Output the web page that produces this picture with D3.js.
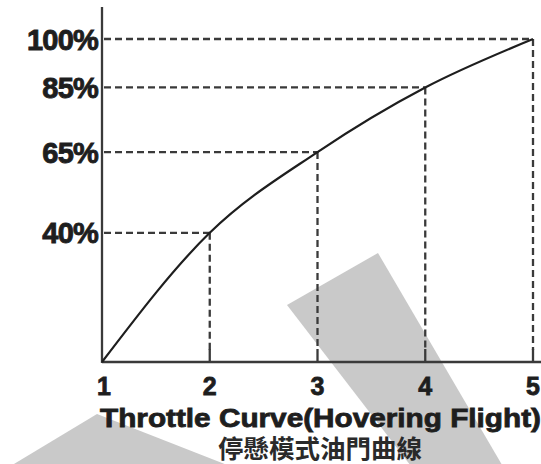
<!DOCTYPE html>
<html>
<head>
<meta charset="utf-8">
<script src="https://cdn.jsdelivr.net/npm/d3@7"></script>
<style>
  body { margin: 0; background: #fff; }
  svg { display: block; }
</style>
</head>
<body>
<script>
// data
var steps = [1, 2, 3, 4, 5];
var throttle = [0, 40, 65, 85, 100];
var yTicks = [40, 65, 85, 100];
var title = "Throttle Curve(Hovering Flight)";
var subtitle = "停懸模式油門曲線";

var width = 541, height = 464;

var x = d3.scaleLinear().domain([1, 5]).range([102, 533]),
    y = d3.scaleLinear().domain([0, 100]).range([362, 39]);

var svg = d3.select("body").append("svg")
  .attr("width", width)
  .attr("height", height);

// grey watermark bands behind the chart
var bands = [
  [[287, 305], [378, 253], [505, 470], [414, 470]],
  [[97, 414], [240, 470], [4, 470]]
];
svg.append("g")
  .selectAll("path")
  .data(bands)
  .enter()
  .append("path")
  .attr("d", function(d) { return "M" + d.join("L") + "Z"; })
  .attr("fill", "#c9c9c9");

var pts = steps.map(function(s, i) { return {s: s, v: throttle[i]}; });

// dashed guide lines
var guides = svg.append("g")
  .attr("stroke", "#3a3a3a")
  .attr("stroke-width", 2.3)
  .attr("stroke-dasharray", "7,4");

guides.selectAll(".h")
  .data(pts.filter(function(d) { return d.v > 0; }))
  .enter()
  .append("line")
  .attr("x1", x(1) + 2)
  .attr("x2", function(d) { return x(d.s); })
  .attr("y1", function(d) { return y(d.v); })
  .attr("y2", function(d) { return y(d.v); });

guides.selectAll(".v")
  .data(pts.filter(function(d) { return d.v > 0; }))
  .enter()
  .append("line")
  .attr("x1", function(d) { return x(d.s); })
  .attr("x2", function(d) { return x(d.s); })
  .attr("y1", function(d) { return y(d.v); })
  .attr("y2", y(0) - 12);

// axes
var axes = svg.append("g").attr("stroke", "#3a3a3a").attr("stroke-width", 2.3);
axes.append("line")
  .attr("x1", x(1)).attr("x2", x(1))
  .attr("y1", 7).attr("y2", y(0) + 1);
axes.append("line")
  .attr("x1", x(1)).attr("x2", width)
  .attr("y1", y(0)).attr("y2", y(0));
axes.selectAll(".tick")
  .data(steps.slice(1))
  .enter()
  .append("line")
  .attr("x1", function(d) { return x(d); })
  .attr("x2", function(d) { return x(d); })
  .attr("y1", y(0) - 13)
  .attr("y2", y(0));

// the curve
var line = d3.line()
  .x(function(d) { return x(d.s); })
  .y(function(d) { return y(d.v); })
  .curve(d3.curveMonotoneX);

svg.append("path")
  .datum(pts)
  .attr("d", line)
  .attr("fill", "none")
  .attr("stroke", "#1e1e1e")
  .attr("stroke-width", 2.2);

// tick labels
svg.append("g")
  .selectAll("text")
  .data(yTicks)
  .enter()
  .append("text")
  .attr("x", 98)
  .attr("y", function(d) { return y(d) + 10.5; })
  .attr("text-anchor", "end")
  .attr("font-family", "Liberation Sans, Arial, sans-serif")
  .attr("font-weight", "bold")
  .attr("font-size", 29)
  .attr("letter-spacing", -0.8)
  .attr("fill", "#1e1e1e")
  .attr("stroke", "#1e1e1e")
  .attr("stroke-width", 0.9)
  .text(function(d) { return d + "%"; });

svg.append("g")
  .selectAll("text")
  .data(steps)
  .enter()
  .append("text")
  .attr("x", function(d) { return x(d) + (d == 1 ? 2 : 0); })
  .attr("y", 395)
  .attr("text-anchor", "middle")
  .attr("font-family", "Liberation Sans, Arial, sans-serif")
  .attr("font-weight", "bold")
  .attr("font-size", 25)
  .attr("fill", "#1e1e1e")
  .attr("stroke", "#1e1e1e")
  .attr("stroke-width", 0.8)
  .text(function(d) { return d; });

svg.append("text")
  .attr("x", 100)
  .attr("y", 427)
  .attr("textLength", 441)
  .attr("lengthAdjust", "spacingAndGlyphs")
  .attr("font-family", "Liberation Sans, Arial, sans-serif")
  .attr("font-weight", "bold")
  .attr("font-size", 25)
  .attr("fill", "#1e1e1e")
  .attr("stroke", "#1e1e1e")
  .attr("stroke-width", 0.8)
  .text(title);

svg.append("text")
  .attr("x", 218)
  .attr("y", 458)
  .attr("textLength", 204)
  .attr("lengthAdjust", "spacingAndGlyphs")
  .attr("font-family", "Noto Sans CJK TC, sans-serif")
  .attr("font-weight", "bold")
  .attr("font-size", 25)
  .attr("fill", "#2a2a2a")
  .text(subtitle);
</script>
</body>
</html>
